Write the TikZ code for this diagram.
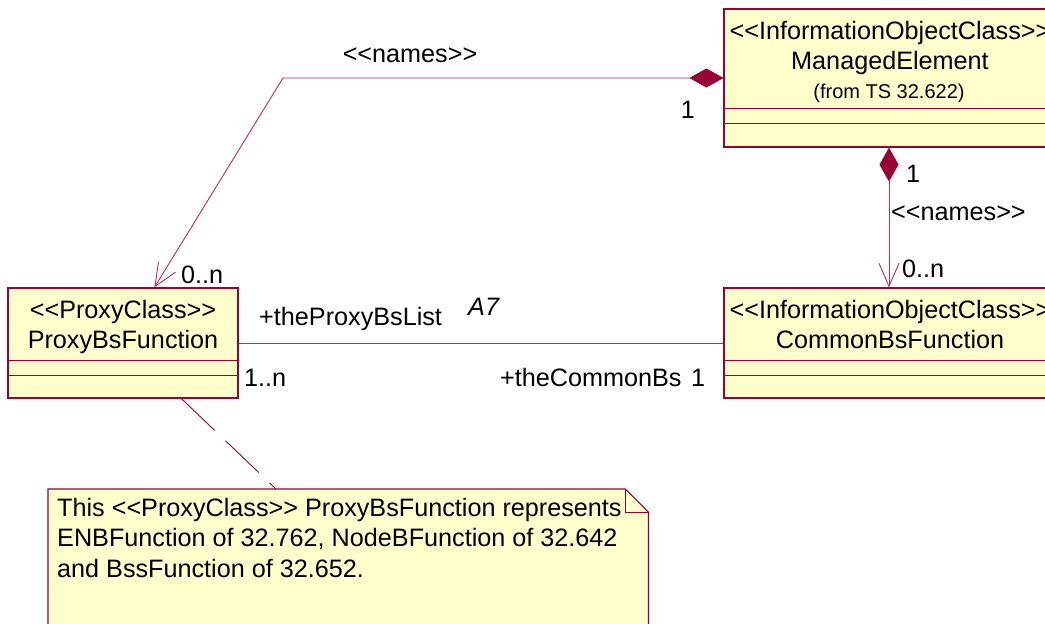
\documentclass[tikz,border=0pt]{standalone}
\usepackage{fontspec}
\setmainfont{Liberation Sans}[Ligatures=TeXOff]
\usetikzlibrary{arrows.meta,calc}
\definecolor{umlfill}{HTML}{FFFFCC}
\definecolor{umlline}{HTML}{990033}
\definecolor{assocline}{HTML}{B4325A}
\begin{document}
\begin{tikzpicture}[x=1pt,y=-1pt,
  cls/.style={draw=umlline, fill=umlfill, line width=1.2pt, rectangle, inner sep=0pt},
  divider/.style={draw=umlline, line width=0.9pt},
  txt/.style={inner sep=0pt, font=\fontsize{25.2}{30.5}\selectfont},
  itxt/.style={inner sep=0pt, font={\fontsize{25.2}{30.5}\selectfont\itshape}},
  small/.style={inner sep=0pt, font=\fontsize{20}{23}\selectfont},
  link/.style={draw=assocline, line width=0.9pt},
  comp/.style={{Diamond[length=34pt,width=19pt,fill=umlline,color=umlline]}-{Straight Barb[length=23pt,width=20pt]}},
  notelink/.style={draw=umlline, line width=0.9pt, dash pattern=on 46pt off 15pt},
]
\useasboundingbox (0,0) rectangle (1045,624);
\clip (0,0) rectangle (1045,624);
\fill[white] (0,0) rectangle (1045,624);

% ManagedElement
\node[cls, minimum width=330pt, minimum height=138pt] (me) at (889,78) {};
\draw[divider] (me.west |- 0,108) -- (me.east |- 0,108);
\draw[divider] (me.west |- 0,123) -- (me.east |- 0,123);
\node[txt, anchor=base] (met) at (890,39) {\begin{tabular}[t]{@{}c@{}}<<InformationObjectClass>>\\ManagedElement\end{tabular}};
\node[small, anchor=base] (mefrom) at (889,98) {(from TS 32.622)};

% CommonBsFunction
\node[cls, minimum width=330pt, minimum height=110pt] (cbf) at (889,343) {};
\draw[divider] (cbf.west |- 0,360) -- (cbf.east |- 0,360);
\draw[divider] (cbf.west |- 0,375) -- (cbf.east |- 0,375);
\node[txt, anchor=base] (cbft) at (890,318) {\begin{tabular}[t]{@{}c@{}}<<InformationObjectClass>>\\CommonBsFunction\end{tabular}};

% ProxyBsFunction
\node[cls, minimum width=230pt, minimum height=110pt] (pbf) at (123,343) {};
\draw[divider] (pbf.west |- 0,360) -- (pbf.east |- 0,360);
\draw[divider] (pbf.west |- 0,375) -- (pbf.east |- 0,375);
\node[txt, anchor=base] (pbft) at (123,318) {\begin{tabular}[t]{@{}c@{}}<<ProxyClass>>\\ProxyBsFunction\end{tabular}};

% Note
\node[inner sep=0pt, minimum width=600pt, minimum height=160pt, anchor=north west] (note) at (48,489) {};
\draw[cls] (note.north west) -- ($(note.north east)+(-23,0)$) -- ($(note.north east)+(0,23)$) -- (note.south east) -- (note.south west) -- cycle;
\draw[divider] ($(note.north east)+(-23,0)$) -- ($(note.north east)+(-23,23)$) -- ($(note.north east)+(0,23)$);
\node[txt, anchor=base west] (notetext) at (57,516) {\begin{tabular}[t]{@{}l@{}}This <<ProxyClass>> ProxyBsFunction represents\\ENBFunction of 32.762, NodeBFunction of 32.642\\and BssFunction of 32.652.\end{tabular}};

% Connectors
\coordinate (bend) at (283,78);
\draw[link, comp] (me.west) -- (bend) -- ($(pbf.north west)+(147,0)$);
\draw[link, comp] (me.south) -- (cbf.north);
\draw[link] (pbf.east) -- (cbf.west);
\draw[notelink] ($(pbf.south west)+(174,0)$) -- ($(note.north west)+(228,0)$);

% Labels
\node[txt, anchor=base] (lnames1) at (410,62) {<<names>>};
\node[txt, anchor=base] (lone1) at (688,118) {1};
\node[txt, anchor=base west] (lzn1) at (181,283) {0..n};
\node[txt, anchor=base west] (lone2) at (906,182) {1};
\node[txt, anchor=base west] (lnames2) at (891,220) {<<names>>};
\node[txt, anchor=base west] (lzn2) at (902,277) {0..n};
\node[txt, anchor=base west] (lproxy) at (259,325) {+theProxyBsList};
\node[itxt, anchor=base west] (la7) at (468,315) {A7};
\node[txt, anchor=base west] (l1n) at (244,386) {1..n};
\node[txt, anchor=base west] (lcommon) at (500,386) {+theCommonBs};
\node[txt, anchor=base west] (lone3) at (691,386) {1};
\end{tikzpicture}
\end{document}
